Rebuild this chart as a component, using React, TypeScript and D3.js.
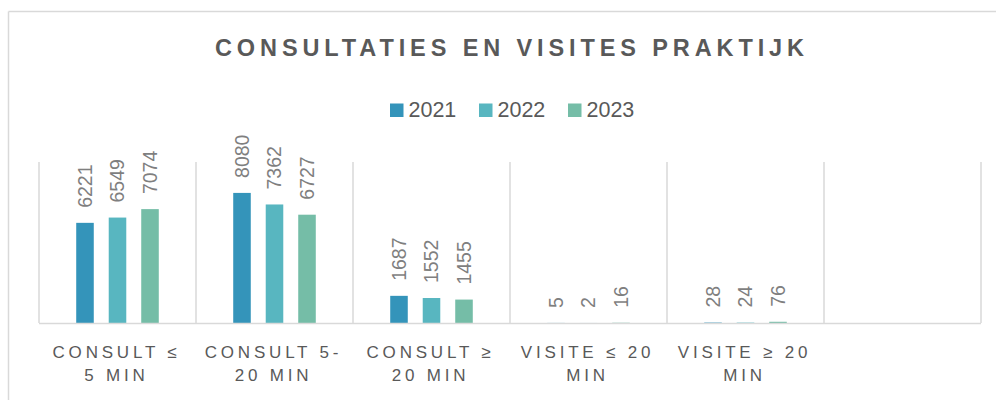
import React from "react";
import * as d3 from "d3";

const title = "CONSULTATIES EN VISITES PRAKTIJK";
const categories = [
  "CONSULT ≤ 5 MIN",
  "CONSULT 5-20 MIN",
  "CONSULT ≥ 20 MIN",
  "VISITE ≤ 20 MIN",
  "VISITE ≥ 20 MIN",
  "",
];
const categoryLines = [
  ["CONSULT ≤", "5 MIN"],
  ["CONSULT 5-", "20 MIN"],
  ["CONSULT ≥", "20 MIN"],
  ["VISITE ≤ 20", "MIN"],
  ["VISITE ≥ 20", "MIN"],
  [],
];
const years = ["2021", "2022", "2023"];
const values2021 = [6221, 8080, 1687, 5, 28, null];
const values2022 = [6549, 7362, 1552, 2, 24, null];
const values2023 = [7074, 6727, 1455, 16, 76, null];
const seriesValues = [values2021, values2022, values2023];
const colors = ["#3494BA", "#58B6C0", "#75BDA7"];

export default function App() {
  const W = 996;
  const H = 400;
  const x = d3.scaleBand<string>().domain(categories.map((c, i) => String(i))).range([39, 981]).padding(0);
  const xi = d3
    .scaleBand<string>()
    .domain(years)
    .range([0, x.bandwidth()])
    .paddingInner(0.46)
    .paddingOuter(1.145);
  const y = d3.scaleLinear().domain([0, 10000]).range([323, 162]);
  const grid = "#d9d9d9";
  const font = "'Liberation Sans', Arial, sans-serif";

  const boundaries = categories.map((_, i) => x(String(i))!).concat([x.range()[1]]);

  return (
    <svg
      width={W}
      height={H}
      style={{ position: "absolute", left: 0, top: 0, background: "#fff" }}
      fontFamily={font}
    >
      <rect x={0} y={0} width={W} height={H} fill="#fff" />
      {/* chart frame */}
      <line x1={8.5} y1={11.5} x2={W + 5} y2={11.5} stroke={grid} strokeWidth={1.5} />
      <line x1={8.5} y1={11.5} x2={8.5} y2={H + 5} stroke={grid} strokeWidth={1.5} />

      <text
        x={215}
        y={56}
        fontSize={23.5}
        fontWeight="bold"
        fill="#595959"
        textLength={589}
        lengthAdjust="spacing"
      >
        {title}
      </text>

      {/* legend */}
      {years.map((yr, i) => {
        const lx = [390, 479, 568][i];
        return (
          <g key={yr}>
            <rect x={lx} y={103.5} width={13.5} height={13.5} fill={colors[i]} />
            <text x={lx + 18.5} y={117} fontSize={21.5} fill="#595959">
              {yr}
            </text>
          </g>
        );
      })}

      {/* gridlines */}
      {boundaries.map((b, i) => (
        <line key={i} x1={b} x2={b} y1={162} y2={323} stroke={grid} strokeWidth={1.5} />
      ))}

      {/* bars */}
      {seriesValues.map((vals, s) =>
        vals.map((v, i) =>
          v == null ? null : (
            <rect
              key={`${s}-${i}`}
              x={x(String(i))! + xi(years[s])!}
              y={y(v)}
              width={xi.bandwidth()}
              height={y(0) - y(v)}
              fill={colors[s]}
            />
          )
        )
      )}

      <line x1={39} x2={981} y1={323.5} y2={323.5} stroke={grid} strokeWidth={1.5} />

      {/* data labels */}
      {seriesValues.map((vals, s) =>
        vals.map((v, i) => {
          if (v == null) return null;
          const cx = x(String(i))! + xi(years[s])! + xi.bandwidth() / 2;
          const ty = y(v) - 15;
          return (
            <text
              key={`l${s}-${i}`}
              transform={`translate(${cx},${ty}) rotate(-90)`}
              dy="0.35em"
              fontSize={19.5}
              fill="#7f7f7f"
            >
              {v}
            </text>
          );
        })
      )}

      {/* x labels */}
      {categoryLines.map((lines, i) => {
        const cx = x(String(i))! + x.bandwidth() / 2;
        return lines.map((ln, j) => (
          <text
            key={`x${i}-${j}`}
            x={cx - 1}
            y={357.5 + j * 23}
            textAnchor="middle"
            fontSize={17}
            letterSpacing={3.8}
            fill="#595959"
          >
            {ln}
          </text>
        ));
      })}
    </svg>
  );
}
